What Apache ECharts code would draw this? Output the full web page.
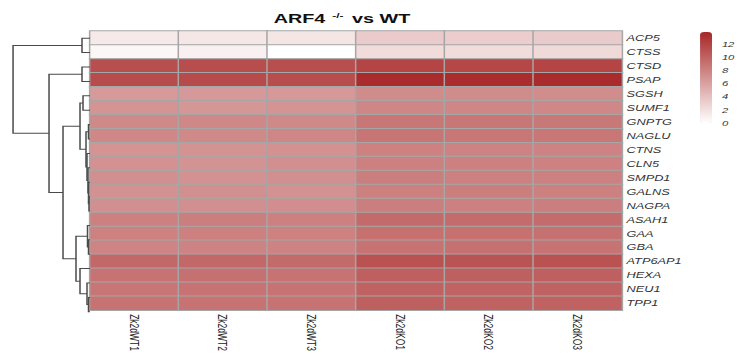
<!DOCTYPE html>
<html>
<head>
<meta charset="utf-8">
<script src="https://cdn.jsdelivr.net/npm/echarts/dist/echarts.min.js"></script>
<style>
  html, body { margin: 0; padding: 0; background: #fff; overflow: hidden; }
  /* the figure is laid out narrow and widened 1.5x, as in the exported image */
  #chart { width: 492px; height: 354px; transform: scaleX(1.5); transform-origin: 0 0; }
</style>
</head>
<body>
<div id="chart"></div>
<script>
// Samples (columns) and lysosomal genes (rows, in clustered order)
const samples = ['Zk2dWT1', 'Zk2dWT2', 'Zk2dWT3', 'Zk2dKO1', 'Zk2dKO2', 'Zk2dKO3'];
const genes = ['ACP5', 'CTSS', 'CTSD', 'PSAP', 'SGSH', 'SUMF1', 'GNPTG', 'NAGLU', 'CTNS', 'CLN5',
               'SMPD1', 'GALNS', 'NAGPA', 'ASAH1', 'GAA', 'GBA', 'ATP6AP1', 'HEXA', 'NEU1', 'TPP1'];

// log2 expression, one array per gene: WT1, WT2, WT3, KO1, KO2, KO3
const ACP5    = [1.4, 1.5, 1.6, 3.4, 3.2, 3.3];
const CTSS    = [0.5, 0.9, 0.0, 2.3, 2.2, 2.4];
const CTSD    = [11.2, 11.3, 11.2, 11.8, 11.7, 11.8];
const PSAP    = [11.4, 11.5, 11.3, 13.5, 13.4, 13.5];
const SGSH    = [6.4, 6.5, 6.5, 7.4, 7.4, 7.3];
const SUMF1   = [6.8, 6.7, 6.8, 7.7, 7.7, 7.6];
const GNPTG   = [7.5, 7.6, 7.5, 8.7, 8.7, 8.6];
const NAGLU   = [7.6, 7.5, 7.7, 8.8, 8.7, 8.7];
const CTNS    = [6.8, 6.9, 7.0, 8.0, 7.9, 7.9];
const CLN5    = [7.0, 6.9, 7.1, 8.1, 8.1, 8.0];
const SMPD1   = [7.1, 7.0, 7.1, 8.2, 8.1, 8.1];
const GALNS   = [7.0, 7.1, 7.0, 8.1, 8.2, 8.1];
const NAGPA   = [7.1, 7.1, 7.2, 8.2, 8.1, 8.2];
const ASAH1   = [8.1, 8.2, 8.1, 9.5, 9.4, 9.4];
const GAA     = [8.0, 8.1, 8.0, 9.1, 9.1, 9.0];
const GBA     = [7.8, 7.9, 7.9, 8.9, 9.0, 8.9];
const ATP6AP1 = [9.6, 9.6, 9.5, 11.0, 10.9, 11.0];
const HEXA    = [8.9, 9.0, 8.9, 10.2, 10.1, 10.2];
const NEU1    = [8.8, 8.9, 8.9, 10.0, 9.9, 10.0];
const TPP1    = [8.9, 8.9, 8.9, 10.1, 10.0, 10.0];

const expression = [ACP5, CTSS, CTSD, PSAP, SGSH, SUMF1, GNPTG, NAGLU, CTNS, CLN5,
                    SMPD1, GALNS, NAGPA, ASAH1, GAA, GBA, ATP6AP1, HEXA, NEU1, TPP1];

// Colour scale range and legend ticks
const scaleMin = 0;
const scaleMax = 13.8;
const legendTicks = [0, 2, 4, 6, 8, 10, 12];

// Row clustering: [merge height, left, right]
const rowTree =
  [77,
    [8, 'ACP5', 'CTSS'],
    [41,
      [8, 'CTSD', 'PSAP'],
      [27,
        [10,
          [7, 'SGSH', 'SUMF1'],
          [4,
            [1.5, 'GNPTG', 'NAGLU'],
            [3, 'CTNS', [2, 'CLN5', [1.5, 'SMPD1', [1, 'GALNS', 'NAGPA']]]]]],
        [14,
          [2.5, 'ASAH1', [1.5, 'GAA', 'GBA']],
          [10, 'ATP6AP1', [3, 'HEXA', [1.5, 'NEU1', 'TPP1']]]]]]];

// Heatmap cells
const cells = [];
expression.forEach((row, r) => row.forEach((v, c) => cells.push([c, r, v])));

// Dendrogram elbows in (height, row) space
const branches = [];
function walk(node) {
  if (typeof node === 'string') return { y: genes.indexOf(node), h: 0 };
  const a = walk(node[1]);
  const b = walk(node[2]);
  const h = node[0];
  branches.push({ coords: [[a.h, a.y], [h, a.y], [h, b.y], [b.h, b.y]] });
  return { y: (a.y + b.y) / 2, h: h };
}
walk(rowTree);

const chart = echarts.init(document.getElementById('chart'), null, { renderer: 'svg' });

chart.setOption({
  animation: false,
  title: {
    text: 'ARF4 {sup|-/-} vs WT',
    left: 223, top: 6, textAlign: 'center',
    textStyle: {
      fontFamily: 'Liberation Sans, Arial, sans-serif',
      fontSize: 13.2, fontWeight: 'bold', color: '#111', lineHeight: 15,
      rich: {
        sup: { fontSize: 8, fontWeight: 'bold', color: '#111', verticalAlign: 'top', padding: [0, 2, 0, 1] }
      }
    }
  },
  grid: [
    { left: 60, top: 31, width: 354.7, height: 288 },   // heatmap
    { left: 6.7, top: 31, width: 53.3, height: 288 },   // dendrogram
    { left: 474, top: 32, width: 1, height: 91 }        // legend tick labels
  ],
  xAxis: [
    {
      gridIndex: 0, type: 'category', data: samples, position: 'bottom',
      axisLine: { show: false }, axisTick: { show: false }, splitLine: { show: false },
      axisLabel: {
        interval: 0, rotate: -90, margin: 4,
        fontFamily: 'Liberation Sans Narrow, Arial Narrow, sans-serif',
        fontSize: 8.5, color: '#222'
      }
    },
    { gridIndex: 1, type: 'value', min: 0, max: 80, inverse: true, show: false },
    { gridIndex: 2, type: 'value', show: false }
  ],
  yAxis: [
    {
      gridIndex: 0, type: 'category', data: genes, inverse: true, position: 'right',
      axisLine: { show: false }, axisTick: { show: false }, splitLine: { show: false },
      axisLabel: {
        interval: 0, margin: 3,
        fontFamily: 'Liberation Sans, Arial, sans-serif',
        fontSize: 8.5, fontStyle: 'italic', color: '#333'
      }
    },
    { gridIndex: 1, type: 'value', min: -0.5, max: 19.5, inverse: true, show: false },
    {
      gridIndex: 2, type: 'value', min: scaleMin, max: scaleMax, interval: 2, position: 'right',
      axisLine: { show: false }, axisTick: { show: false }, splitLine: { show: false },
      axisLabel: {
        margin: 7, showMaxLabel: false,
        fontFamily: 'Liberation Sans, Arial, sans-serif',
        fontSize: 7.5, fontStyle: 'italic', color: '#333',
        formatter: v => (legendTicks.indexOf(v) >= 0 ? String(v) : '')
      }
    }
  ],
  visualMap: {
    type: 'continuous', seriesIndex: 0,
    min: scaleMin, max: scaleMax, calculable: false,
    left: 466.7, top: 32, itemWidth: 8, itemHeight: 91, padding: 0,
    text: null, showLabel: false,
    inRange: { color: ['#ffffff', '#a82626'] }
  },
  series: [
    {
      type: 'heatmap', xAxisIndex: 0, yAxisIndex: 0, data: cells,
      itemStyle: { borderColor: '#a6a6a6', borderWidth: 1 },
      emphasis: { disabled: true }, silent: true
    },
    {
      type: 'lines', coordinateSystem: 'cartesian2d', xAxisIndex: 1, yAxisIndex: 1,
      polyline: true, silent: true, data: branches,
      lineStyle: { color: '#4a4a4a', width: 1, opacity: 1 }
    }
  ]
});
</script>
</body>
</html>
